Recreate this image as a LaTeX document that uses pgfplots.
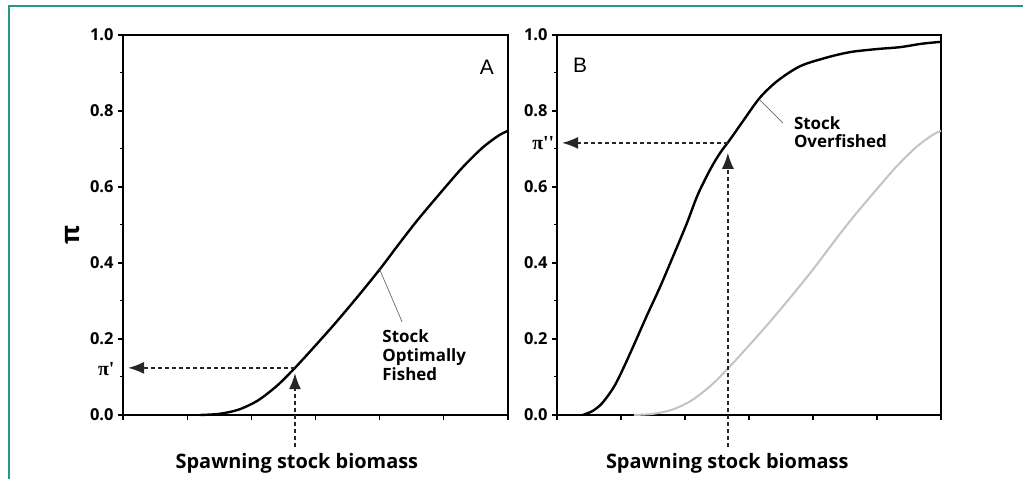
\documentclass[border=0pt]{standalone}
\usepackage{fontspec}
\setmainfont{Open Sans}
\newfontfamily\greekserif{Liberation Serif}
\newfontfamily\arialf{Liberation Sans}
\usepackage{pgfplots}
\pgfplotsset{compat=1.18}
\usetikzlibrary{arrows.meta}
\definecolor{teal1}{RGB}{40,150,135}
\definecolor{lgray}{RGB}{195,195,195}

\begin{document}
\begin{tikzpicture}
\path[use as bounding box] (0bp,0bp) rectangle (1023bp,479bp);
\draw[teal1,line width=2bp] (9bp,0bp) -- (9bp,472.5bp) -- (1023bp,472.5bp);

\pgfplotsset{
  panel/.style={
    scale only axis, width=385bp, height=380bp,
    xmin=0, xmax=6, ymin=0, ymax=1,
    clip=false,
    axis line style={line width=2.2bp},
    xtick={0,1,...,6}, xticklabels={},
    ytick={0,0.2,...,1.0},
    minor ytick={0.1,0.3,0.5,0.7,0.9},
    tick align=outside,
    xtick pos=bottom, ytick pos=left,
    major tick length=5bp, minor tick length=3bp,
    every tick/.style={black,line width=1.3bp},
    every minor tick/.style={black,line width=1bp},
    y tick label style={font=\fontsize{16.5}{16.5}\selectfont\bfseries,xshift=-1bp},
    /pgf/number format/assume math mode=true,
    /pgf/number format/.cd, fixed, fixed zerofill, precision=1,
  }
}

% Panel A
\begin{axis}[panel, at={(123bp,64bp)}, anchor=south west,
  ylabel={\fontsize{26}{26}\selectfont\bfseries π},
  ylabel style={at={(axis description cs:-0.132,0.474)},anchor=center}]
\addplot[black,line width=2.4bp,smooth] coordinates {
(1.2,0) (1.5,0.003) (1.8,0.014) (2.1,0.038) (2.4,0.077) (2.68,0.124) (3.0,0.183) (3.3,0.24) (3.65,0.31) (4.0,0.383) (4.3,0.45) (4.6,0.515) (5.0,0.595) (5.3,0.653) (5.6,0.703) (5.85,0.735) (6.0,0.748)};
\draw[gray!80!black,line width=0.7bp] (axis cs:4.0,0.383) -- (axis cs:4.35,0.245);
\node[anchor=north west,align=left,inner sep=0pt,font=\fontsize{17}{19}\selectfont\bfseries] at (axis cs:4.04,0.224) {Stock\\Optimally\\Fished};
\node[font=\arialf\fontsize{21}{21}\selectfont] at (axis cs:5.67,0.916) {A};
\draw[black!85,line width=1.4bp,dash pattern=on 4bp off 3bp,-{Latex[length=16bp,width=12bp]}] (axis cs:2.68,0.124) -- (axis cs:0.08,0.124);
\draw[black!85,line width=1.4bp,dash pattern=on 4bp off 3bp,-{Latex[length=16bp,width=12bp]}] (axis cs:2.68,-0.084) -- (axis cs:2.68,0.11);
\node[anchor=east,inner sep=0pt,font=\greekserif\fontsize{20}{20}\selectfont\bfseries] at (axis cs:-0.13,0.121) {π'};
\node[font=\fontsize{20}{20}\selectfont\bfseries] at (axis cs:2.71,-0.128) {Spawning stock biomass};
\end{axis}

% Panel B
\begin{axis}[panel, at={(557bp,64bp)}, anchor=south west, width=384bp]
\addplot[lgray,line width=2bp,smooth] coordinates {
(1.2,0) (1.5,0.003) (1.8,0.014) (2.1,0.038) (2.4,0.077) (2.68,0.124) (3.0,0.183) (3.3,0.24) (3.65,0.31) (4.0,0.383) (4.3,0.45) (4.6,0.515) (5.0,0.595) (5.3,0.653) (5.6,0.703) (5.85,0.735) (6.0,0.748)};
\addplot[black,line width=2.4bp,smooth] coordinates {
(0.4,0) (0.55,0.01) (0.7,0.03) (0.875,0.07) (1.0,0.11) (1.19,0.18) (1.4,0.26) (1.61,0.337) (1.82,0.42) (2.03,0.505) (2.2,0.58) (2.4,0.648) (2.55,0.69) (2.7,0.724) (2.9,0.772) (3.17,0.835) (3.45,0.88) (3.8,0.918) (4.2,0.94) (4.58,0.955) (5.0,0.963) (5.36,0.968) (5.7,0.977) (6.0,0.982)};
\draw[gray!80!black,line width=0.7bp] (axis cs:3.17,0.829) -- (axis cs:3.53,0.768);
\node[anchor=north west,align=left,inner sep=0pt,font=\fontsize{17}{19}\selectfont\bfseries] at (axis cs:3.70,0.787) {Stock\\Overfished};
\node[font=\arialf\fontsize{21}{21}\selectfont] at (axis cs:0.36,0.92) {B};
\draw[black!85,line width=1.4bp,dash pattern=on 4bp off 3bp,-{Latex[length=16bp,width=12bp]}] (axis cs:2.67,0.716) -- (axis cs:0.08,0.716);
\draw[black!85,line width=1.4bp,dash pattern=on 4bp off 3bp,-{Latex[length=16bp,width=12bp]}] (axis cs:2.67,-0.084) -- (axis cs:2.67,0.69);
\node[anchor=east,inner sep=0pt,font=\greekserif\fontsize{20}{20}\selectfont\bfseries] at (axis cs:-0.04,0.716) {π''};
\node[font=\fontsize{20}{20}\selectfont\bfseries] at (axis cs:2.66,-0.128) {Spawning stock biomass};
\end{axis}
\end{tikzpicture}
\end{document}
